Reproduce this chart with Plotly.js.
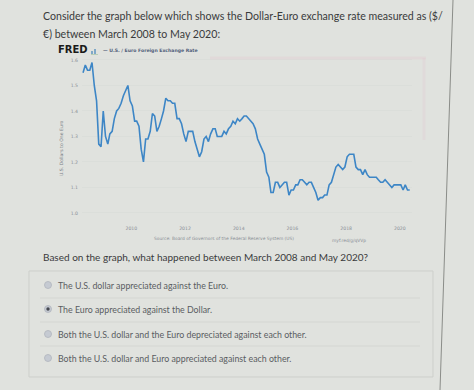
<!DOCTYPE html>
<html>
<head>
<meta charset="utf-8">
<script src="https://cdn.plot.ly/plotly-3.0.1.min.js"></script>
<style>
html,body{margin:0;padding:0;background:#e0e2de;}
#chart{width:474px;height:390px;}
</style>
</head>
<body>
<div id="chart"></div>
<script>
// ---- data (U.S. dollars to one euro, monthly readings) ----
var startYear = 2008, startMonth = 3;
var rates = [
  1.55,1.58,1.56,1.56,1.59,1.50,1.44,1.27,1.26,1.40,
  1.30,1.27,1.31,1.32,1.37,1.40,1.41,1.43,1.46,1.48,1.50,1.44,
  1.42,1.36,1.36,1.34,1.25,1.20,1.29,1.29,1.32,1.39,1.38,1.32,
  1.34,1.37,1.40,1.45,1.44,1.44,1.43,1.43,1.37,1.37,1.35,1.31,
  1.28,1.32,1.32,1.32,1.28,1.25,1.22,1.24,1.29,1.30,1.28,1.31,
  1.33,1.33,1.30,1.30,1.30,1.32,1.31,1.33,1.34,1.36,1.35,1.37,
  1.36,1.37,1.38,1.38,1.37,1.36,1.35,1.33,1.29,1.27,1.25,1.23,
  1.16,1.14,1.08,1.08,1.12,1.12,1.10,1.11,1.12,1.12,1.07,1.09,
  1.09,1.11,1.11,1.13,1.13,1.12,1.11,1.12,1.12,1.10,1.08,1.05,
  1.06,1.06,1.07,1.07,1.11,1.12,1.15,1.18,1.19,1.18,1.17,1.18,
  1.22,1.23,1.23,1.23,1.18,1.17,1.17,1.15,1.17,1.15,1.14,1.14,
  1.14,1.14,1.13,1.12,1.12,1.13,1.12,1.11,1.10,1.11,1.11,1.11,
  1.11,1.09,1.11,1.09,1.09
];
var yTicks = [1.0,1.1,1.2,1.3,1.4,1.5,1.6];
var yTickText = ["1.0","1.1","1.2","1.3","1.4","1.5","1.6"];
var xTicks = ["2010-01-01","2012-01-01","2014-01-01","2016-01-01","2018-01-01","2020-01-01"];
var xTickText = ["2010","2012","2014","2016","2018","2020"];
var questionLines = ["Consider the graph below which shows the Dollar-Euro exchange rate measured as ($/",
                     "\u20ac) between March 2008 to May 2020:"];
var prompt = "Based on the graph, what happened between March 2008 and May 2020?";
var options = ["The U.S. dollar appreciated against the Euro.",
               "The Euro appreciated against the Dollar.",
               "Both the U.S. dollar and the Euro depreciated against each other.",
               "Both the U.S. dollar and Euro appreciated against each other."];
var selectedOption = 1;

// build monthly dates
var dates = [];
for (var i = 0; i < rates.length; i++) {
  var m = startMonth - 1 + i;
  var y = startYear + Math.floor(m / 12);
  var mm = (m % 12) + 1;
  dates.push(y + "-" + (mm < 10 ? "0" + mm : mm) + "-15");
}

var W = 474, H = 390;
function px(x){return x / W;}
function py(y){return 1 - y / H;}

var annotations = [];
var shapes = [];
var font = "Lato, 'Open Sans', sans-serif";

// question text
annotations.push({xref:'paper',yref:'paper',x:px(41),y:py(16),xanchor:'left',yanchor:'middle',showarrow:false,
  text:questionLines[0],font:{family:font,size:10.6,color:'#3a3b3c'}});
annotations.push({xref:'paper',yref:'paper',x:px(41),y:py(34),xanchor:'left',yanchor:'middle',showarrow:false,
  text:questionLines[1],font:{family:font,size:10.6,color:'#3a3b3c'}});

// FRED header
annotations.push({xref:'paper',yref:'paper',x:px(56),y:py(50),xanchor:'left',yanchor:'middle',showarrow:false,
  text:'<b>FRED</b>',font:{family:'DejaVu Sans, sans-serif',size:10,color:'#1a1a1a'}});
annotations.push({xref:'paper',yref:'paper',x:px(101),y:py(51),xanchor:'left',yanchor:'middle',showarrow:false,
  text:'<b>\u2014 U.S. / Euro Foreign Exchange Rate</b>',font:{family:'DejaVu Sans, sans-serif',size:4.6,color:'#50607a'}});
// small logo bars
shapes.push({type:'rect',xref:'paper',yref:'paper',x0:px(91),x1:px(93),y0:py(54),y1:py(51),fillcolor:'#7fa8c8',line:{width:0}});
shapes.push({type:'rect',xref:'paper',yref:'paper',x0:px(94),x1:px(96),y0:py(54),y1:py(49),fillcolor:'#7fa8c8',line:{width:0}});
shapes.push({type:'rect',xref:'paper',yref:'paper',x0:px(91),x1:px(98),y0:py(54.5),y1:py(54),fillcolor:'#8fb88f',line:{width:0}});

// y axis title
annotations.push({xref:'paper',yref:'paper',x:px(61),y:py(148),xanchor:'center',yanchor:'middle',showarrow:false,textangle:-90,
  text:'U.S. Dollars to One Euro',font:{family:'DejaVu Sans, sans-serif',size:4.6,color:'#7a7f86'}});

// source line
annotations.push({xref:'paper',yref:'paper',x:px(152),y:py(238),xanchor:'left',yanchor:'middle',showarrow:false,
  text:'Source: Board of Governors of the Federal Reserve System (US)',font:{family:'DejaVu Sans, sans-serif',size:4.4,color:'#8a8f96'}});
annotations.push({xref:'paper',yref:'paper',x:px(330),y:py(240),xanchor:'left',yanchor:'middle',showarrow:false,
  text:'myf.red/g/qVVp',font:{family:'DejaVu Sans, sans-serif',size:4.4,color:'#8a8f96'}});

// faint pink frame of the chart image
shapes.push({type:'line',xref:'paper',yref:'paper',x0:px(210),x1:px(426),y0:py(58),y1:py(58),line:{color:'rgba(225,200,208,0.35)',width:3}});
shapes.push({type:'line',xref:'paper',yref:'paper',x0:px(424),x1:px(424),y0:py(58),y1:py(140),line:{color:'rgba(225,200,208,0.3)',width:3}});

// prompt
annotations.push({xref:'paper',yref:'paper',x:px(41),y:py(257),xanchor:'left',yanchor:'middle',showarrow:false,
  text:prompt,font:{family:font,size:10,color:'#3a3b3c'}});

// answer box
shapes.push({type:'rect',xref:'paper',yref:'paper',x0:px(29),x1:px(433),y0:py(271),y1:py(377),fillcolor:'rgba(0,0,0,0)',line:{color:'#cdcfcb',width:1}});
var sepY = [298, 322, 346];
sepY.forEach(function(s){
  shapes.push({type:'line',xref:'paper',yref:'paper',x0:px(40),x1:px(420),y0:py(s),y1:py(s),line:{color:'#d4d6d2',width:1}});
});
var optY = [285, 309, 334, 358];
options.forEach(function(t, k){
  annotations.push({xref:'paper',yref:'paper',x:px(56),y:py(optY[k]),xanchor:'left',yanchor:'middle',showarrow:false,
    text:t,font:{family:font,size:8.8,color:'#5a5d62'}});
  shapes.push({type:'circle',xref:'paper',yref:'paper',x0:px(44.5),x1:px(51.5),y0:py(optY[k]+3.5),y1:py(optY[k]-3.5),
    fillcolor:'#c5cad2',line:{color:'#b0b5bd',width:0.8}});
  if (k === selectedOption) {
    shapes.push({type:'circle',xref:'paper',yref:'paper',x0:px(46.3),x1:px(49.7),y0:py(optY[k]+1.7),y1:py(optY[k]-1.7),
      fillcolor:'#44484f',line:{width:0}});
  }
});

// page right border line
shapes.push({type:'line',xref:'paper',yref:'paper',x0:px(453),x1:px(440),y0:py(0),y1:py(390),line:{color:'#8a8c88',width:1}});

var trace = {
  x: dates, y: rates, type:'scatter', mode:'lines',
  line:{color:'#3d86c6',width:1.6},
  hoverinfo:'skip'
};

var layout = {
  width: W, height: H,
  margin:{l:0,r:0,t:0,b:0},
  paper_bgcolor:'#e0e2de',
  plot_bgcolor:'#e0e2de',
  showlegend:false,
  xaxis:{
    type:'date', domain:[px(82), px(412)],
    range:['2008-03-01','2020-06-15'],
    tickvals:xTicks, ticktext:xTickText,
    showgrid:false, zeroline:false, showline:false, ticks:'',
    tickfont:{family:'DejaVu Sans, sans-serif',size:4.6,color:'#8a8f96'},
    ticklabelstandoff: 6
  },
  yaxis:{
    domain:[py(218), py(55)],
    range:[0.980, 1.6196],
    tickvals:yTicks, ticktext:yTickText,
    showgrid:true, gridcolor:'rgba(208,211,207,0.5)', gridwidth:0.6,
    zeroline:false, showline:false, ticks:'',
    tickfont:{family:'DejaVu Sans, sans-serif',size:4.6,color:'#8a8f96'},
    ticklabelstandoff: 3
  },
  annotations: annotations,
  shapes: shapes
};

Plotly.newPlot('chart', [trace], layout, {displayModeBar:false, staticPlot:true});
</script>
</body>
</html>
